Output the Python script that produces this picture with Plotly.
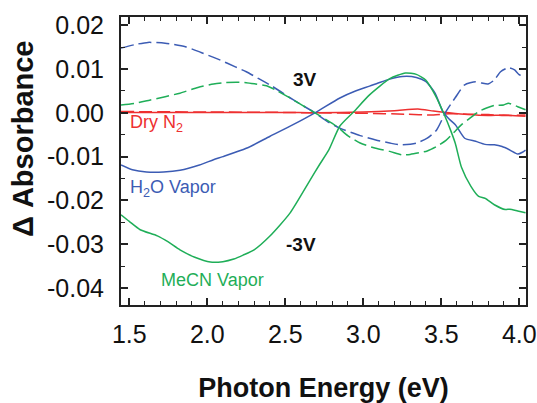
import plotly.graph_objects as go

# ---- data ----
h2o_pos_x = [1.447,1.55,1.62,1.73,1.86,1.96,2.08,2.18,2.25,2.33,2.42,2.55,2.69,2.77,2.85,2.98,3.08,3.17,3.235,3.34,3.41,3.47,3.53,3.59,3.65,3.72,3.76,3.80,3.84,3.88,3.93,3.97,4.00,4.04]
h2o_pos_y = [0.0148,0.0157,0.0161,0.0159,0.0151,0.0138,0.0121,0.0105,0.0094,0.0078,0.0060,0.0030,0.0,-0.0020,-0.0035,-0.0052,-0.0062,-0.0069,-0.0073,-0.0069,-0.0058,-0.0039,0.0003,0.0035,0.0064,0.0071,0.0068,0.0066,0.0075,0.0094,0.0103,0.0098,0.0087,0.0085]

h2o_neg_x = [1.447,1.52,1.61,1.72,1.825,1.95,2.04,2.10,2.25,2.40,2.55,2.69,2.85,2.95,3.04,3.11,3.17,3.25,3.34,3.40,3.46,3.51,3.55,3.59,3.65,3.72,3.78,3.84,3.89,3.94,3.99,4.02,4.04]
h2o_neg_y = [-0.0119,-0.0130,-0.0135,-0.0135,-0.0131,-0.0119,-0.0107,-0.0100,-0.0081,-0.0054,-0.0027,0.0,0.0034,0.0050,0.0061,0.0070,0.0077,0.0083,0.0081,0.0072,0.0045,0.0003,-0.0014,-0.0027,-0.0058,-0.0065,-0.0072,-0.0073,-0.0077,-0.0085,-0.0094,-0.0090,-0.0085]

mecn_pos_x = [1.447,1.54,1.63,1.73,1.825,1.94,2.04,2.11,2.19,2.25,2.31,2.38,2.45,2.53,2.61,2.69,2.83,2.90,2.98,3.08,3.17,3.25,3.30,3.41,3.47,3.53,3.58,3.63,3.68,3.74,3.79,3.84,3.90,3.93,3.99,4.04]
mecn_pos_y = [0.0018,0.0022,0.0029,0.0037,0.0045,0.0058,0.0066,0.0069,0.0070,0.0069,0.0066,0.0062,0.0050,0.0034,0.0017,0.0,-0.0031,-0.0052,-0.0069,-0.0081,-0.0088,-0.0096,-0.0095,-0.0087,-0.0077,-0.0063,-0.0045,-0.0027,-0.0013,0.0003,0.0011,0.0017,0.0018,0.0022,0.0014,0.0007]

mecn_neg_x = [1.447,1.50,1.57,1.68,1.75,1.825,1.92,2.02,2.10,2.17,2.23,2.30,2.40,2.53,2.66,2.72,2.78,2.85,2.94,3.04,3.17,3.27,3.34,3.40,3.46,3.52,3.56,3.59,3.63,3.69,3.74,3.78,3.84,3.91,3.94,3.99,4.04]
mecn_neg_y = [-0.0233,-0.0248,-0.0267,-0.0281,-0.0295,-0.0313,-0.0330,-0.0341,-0.0340,-0.0334,-0.0325,-0.0313,-0.0282,-0.0229,-0.0153,-0.0118,-0.0084,-0.0030,0.0003,0.0041,0.0078,0.0091,0.0088,0.0075,0.0041,-0.0005,-0.0040,-0.0070,-0.0125,-0.0168,-0.0191,-0.0195,-0.0210,-0.0221,-0.0220,-0.0224,-0.0228]

n2_pos_x = [1.447,2.0,2.5,2.7,3.0,3.2,3.35,3.45,3.55,3.67,3.8,3.9,4.04]
n2_pos_y = [0.0001,0.0001,0.0001,0.0,0.0002,0.0005,0.0009,0.0004,0.0,-0.0004,-0.0006,-0.0005,-0.0008]

n2_neg_x = [1.447,2.0,2.5,2.7,3.0,3.27,3.45,3.55,3.67,3.8,3.9,4.04]
n2_neg_y = [0.0003,0.0002,0.0001,0.0,-0.0001,-0.0003,-0.0005,-0.0002,-0.0003,-0.0004,-0.0006,-0.0005]

xticks = [1.5, 2.0, 2.5, 3.0, 3.5, 4.0]
xtick_text = ["1.5", "2.0", "2.5", "3.0", "3.5", "4.0"]
yticks = [0.02, 0.01, 0.0, -0.01, -0.02, -0.03, -0.04]
ytick_text = ["0.02", "0.01", "0.00", "-0.01", "-0.02", "-0.03", "-0.04"]

BLUE = "#3c5cb4"
GREEN = "#1fae58"
RED = "#ee3030"
DASH = "13px,5px"

fig = go.Figure()

def add(x, y, color, dash):
    fig.add_trace(go.Scatter(x=x, y=y, mode="lines",
                             line=dict(color=color, width=1.5, dash=dash, shape="spline", smoothing=0.6),
                             showlegend=False, hoverinfo="skip"))

add(n2_neg_x, n2_neg_y, RED, DASH)
add(n2_pos_x, n2_pos_y, RED, "solid")
add(h2o_pos_x, h2o_pos_y, BLUE, DASH)
add(h2o_neg_x, h2o_neg_y, BLUE, "solid")
add(mecn_pos_x, mecn_pos_y, GREEN, DASH)
add(mecn_neg_x, mecn_neg_y, GREEN, "solid")

FONT = "Liberation Sans, Arial, sans-serif"

axis_common = dict(showline=True, linecolor="#222", linewidth=2, mirror="ticks",
                   ticks="inside", ticklen=7, tickwidth=1.5, tickcolor="#222",
                   showgrid=False, zeroline=False, automargin=False,
                   tickfont=dict(family=FONT, size=25, color="#111"))

fig.update_xaxes(range=[1.447, 4.043], tickvals=xticks, ticktext=xtick_text,
                 minor=dict(ticks="inside", dtick=0.1, ticklen=4, tickwidth=1.2, tickcolor="#222"),
                 ticklabelstandoff=6,
                 title=dict(text="<b>Photon Energy (eV)</b>", font=dict(family=FONT, size=27, color="#111"), standoff=45),
                 **axis_common)
fig.update_yaxes(range=[-0.0439, 0.0219], tickvals=yticks, ticktext=ytick_text,
                 minor=dict(ticks="inside", dtick=0.005, ticklen=4, tickwidth=1.2, tickcolor="#222"),
                 ticklabelstandoff=10,
                 **axis_common)

W, H = 537, 403
L, R, T, B = 121, 11, 17, 98
pw, ph = W - L - R, H - T - B

fig.add_annotation(text="<b>Δ Absorbance</b>", textangle=-90,
                   x=(23 - L) / pw, y=(H - B - 139) / ph,
                   xref="paper", yref="paper", showarrow=False,
                   xanchor="center", yanchor="middle",
                   font=dict(family=FONT, size=29, color="#111"))

def label(text, x, y, color, size, anchor="left"):
    fig.add_annotation(text=text, x=x, y=y, xref="x", yref="y", showarrow=False,
                       xanchor=anchor, yanchor="middle",
                       font=dict(family=FONT, size=size, color=color))

label("Dry N<sub>2</sub>", 1.49, -0.0025, RED, 18)
label("H<sub>2</sub>O Vapor", 1.49, -0.0172, BLUE, 18)
label("MeCN Vapor", 1.69, -0.0382, GREEN, 18)
label("<b>3V</b>", 2.537, 0.0076, "#111", 19)
label("<b>-3V</b>", 2.49, -0.0301, "#111", 19)

fig.update_layout(width=W, height=H, margin=dict(l=L, r=R, t=T, b=B, autoexpand=False),
                  paper_bgcolor="white", plot_bgcolor="white",
                  font=dict(family=FONT))

fig.write_html("out.html")
